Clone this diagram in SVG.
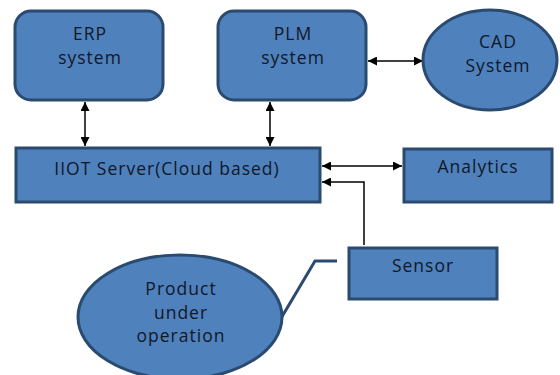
<svg xmlns="http://www.w3.org/2000/svg" width="560" height="375" viewBox="0 0 560 375">
<style>
.n{fill:#4F81BD;stroke:#2A4A70;stroke-width:3}
.t{font-family:"Open Sans","Liberation Sans",sans-serif;font-size:17.5px;letter-spacing:1px;fill:#111827;text-anchor:middle}
.c{fill:none;stroke:#000;stroke-width:1.5}
</style>
<defs>
<marker id="a" viewBox="0 0 10 10" refX="10" refY="5" markerWidth="9" markerHeight="9" markerUnits="userSpaceOnUse" orient="auto-start-reverse"><path d="M0,0 L10,5 L0,10 z" fill="#000"/></marker>
</defs>
<rect width="560" height="375" fill="#fff"/>
<g id="connectors">
<line class="c" x1="85" y1="102" x2="85" y2="146" marker-start="url(#a)" marker-end="url(#a)"/>
<line class="c" x1="270" y1="102" x2="270" y2="146" marker-start="url(#a)" marker-end="url(#a)"/>
<line class="c" x1="368" y1="61" x2="423" y2="61" marker-start="url(#a)" marker-end="url(#a)"/>
<line class="c" x1="322" y1="166" x2="402" y2="166" marker-start="url(#a)" marker-end="url(#a)"/>
<polyline class="c" points="364,245 364,182 322,182" marker-end="url(#a)"/>
<polyline points="280,320 315,261 337,261" fill="none" stroke="#2A4A70" stroke-width="3"/>
</g>
<g id="erp"><rect class="n" x="15" y="11" width="148" height="89" rx="16"/><text class="t" x="90" y="40">ERP</text><text class="t" x="90" y="64">system</text></g>
<g id="plm"><rect class="n" x="218" y="11" width="148" height="89" rx="16"/><text class="t" x="293" y="40">PLM</text><text class="t" x="293" y="64">system</text></g>
<g id="cad"><ellipse class="n" cx="490" cy="60" rx="67" ry="50"/><text class="t" x="498" y="48">CAD</text><text class="t" x="498" y="72">System</text></g>
<g id="iiot"><rect class="n" x="16" y="148" width="304" height="54"/><text class="t" x="167" y="175">IIOT Server(Cloud based)</text></g>
<g id="analytics"><rect class="n" x="404" y="149" width="148" height="53"/><text class="t" x="478" y="173">Analytics</text></g>
<g id="sensor"><rect class="n" x="349" y="248" width="148" height="51"/><text class="t" x="423" y="272">Sensor</text></g>
<g id="product"><ellipse class="n" cx="180" cy="317" rx="102" ry="62"/><text class="t" x="181" y="295">Product</text><text class="t" x="181" y="319">under</text><text class="t" x="181" y="342">operation</text></g>
</svg>
